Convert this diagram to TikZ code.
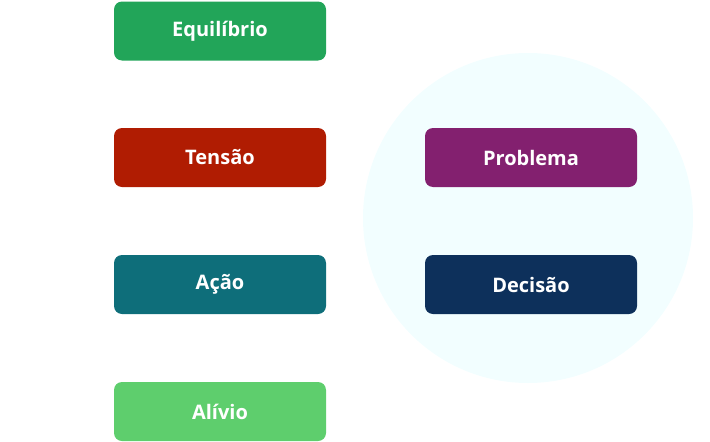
\documentclass[tikz,border=0pt]{standalone}
\usepackage{fontspec}
\setmainfont{Open Sans}
\begin{document}
\begin{tikzpicture}[x=1pt,y=-1pt,
  stepbox/.style={rounded corners=8pt, minimum width=212pt, minimum height=59pt, inner sep=0pt,
    text=white, font=\fontsize{20}{24}\selectfont\bfseries}]
\useasboundingbox (0,0) rectangle (710,442);
\fill[fill={rgb,255:red,242;green,254;blue,255}] (528,218) circle (165);
\node[stepbox, fill={rgb,255:red,34;green,165;blue,89}] (eq) at (220,31) {Equilíbrio};
\node[stepbox, fill={rgb,255:red,176;green,28;blue,2}] (te) at (220,157.5) {Tensão};
\node[stepbox, fill={rgb,255:red,14;green,110;blue,122}] (ac) at (220,284.5) {Ação};
\node[stepbox, fill={rgb,255:red,94;green,206;blue,109}] (al) at (220,411.5) {Alívio};
\node[stepbox, fill={rgb,255:red,131;green,32;blue,111}] (pr) at (531,157.5) {Problema};
\node[stepbox, fill={rgb,255:red,13;green,48;blue,91}] (de) at (531,284.5) {Decisão};
\end{tikzpicture}
\end{document}
